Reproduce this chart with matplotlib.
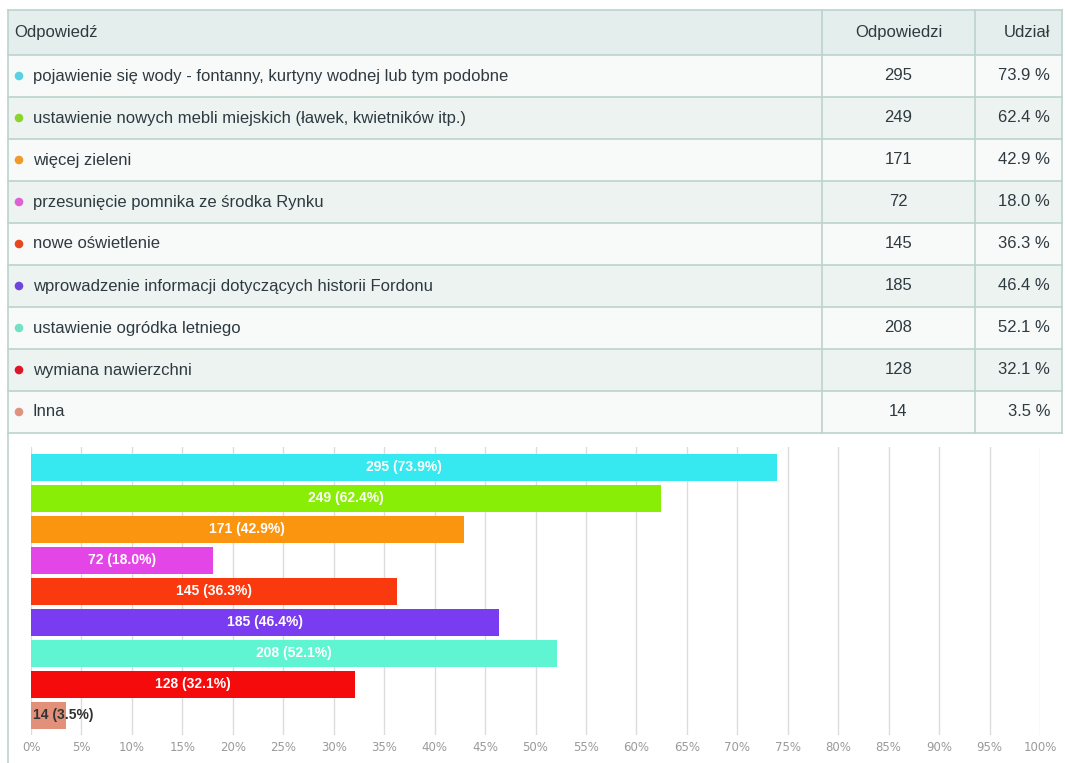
import matplotlib
matplotlib.use("Agg")
import matplotlib.pyplot as plt
from matplotlib.patches import Rectangle, Circle

answers = [
    "pojawienie się wody - fontanny, kurtyny wodnej lub tym podobne",
    "ustawienie nowych mebli miejskich (ławek, kwietników itp.)",
    "więcej zieleni",
    "przesunięcie pomnika ze środka Rynku",
    "nowe oświetlenie",
    "wprowadzenie informacji dotyczących historii Fordonu",
    "ustawienie ogródka letniego",
    "wymiana nawierzchni",
    "Inna",
]
counts = [295, 249, 171, 72, 145, 185, 208, 128, 14]
shares = [73.9, 62.4, 42.9, 18.0, 36.3, 46.4, 52.1, 32.1, 3.5]
bar_colors = ["#36e8f0", "#88ee06", "#fb9510", "#e445e6", "#fa3a0e",
              "#7a3cf0", "#60f5d2", "#f50b0b", "#e3907a"]
dot_colors = ["#55d3e3", "#8ad42c", "#f09a2a", "#de5fd6", "#e6471f",
              "#6f45dc", "#72e2c4", "#dd1527", "#df937f"]
header = ["Odpowiedź", "Odpowiedzi", "Udział"]
ticks = list(range(0, 101, 5))

plt.rcParams["font.family"] = ["Liberation Sans", "DejaVu Sans"]

W, H = 1065, 763
fig = plt.figure(figsize=(W / 100, H / 100), dpi=100)
fig.patch.set_facecolor("white")

# --- table drawn in pixel coordinates ---
tab = fig.add_axes([0, 0, 1, 1])
tab.set_xlim(0, W)
tab.set_ylim(H, 0)
tab.axis("off")

x0, x1, x2, x3 = 8, 822, 975, 1062
y_top, head_h, row_h = 10, 45, 42
line_c = "#bcd3ce"
text_c = "#2f3a40"

tab.add_patch(Rectangle((x0, y_top), x3 - x0, head_h, facecolor="#e4eeec",
                        edgecolor="none"))
for i in range(len(answers)):
    y = y_top + head_h + i * row_h
    fc = "#f7faf9" if i % 2 == 0 else "#edf3f1"
    tab.add_patch(Rectangle((x0, y), x3 - x0, row_h, facecolor=fc, edgecolor="none"))

n_lines = len(answers) + 2
for k in range(n_lines):
    y = y_top + (head_h + (k - 1) * row_h if k > 0 else 0)
    tab.plot([x0, x3], [y, y], color=line_c, lw=1.2)
y_end = y_top + head_h + len(answers) * row_h
for xv in (x1, x2, x3):
    tab.plot([xv, xv], [y_top, y_end], color=line_c, lw=1.2)
tab.plot([x0, x0], [y_top, H], color=line_c, lw=1.2)

fs = 12
ym = y_top + head_h / 2
tab.text(14, ym, header[0], va="center", ha="left", fontsize=fs, color=text_c)
tab.text((x1 + x2) / 2, ym, header[1], va="center", ha="center", fontsize=fs, color=text_c)
tab.text(1050, ym, header[2], va="center", ha="right", fontsize=fs, color=text_c)

for i, (a, c, s) in enumerate(zip(answers, counts, shares)):
    ym = y_top + head_h + i * row_h + row_h / 2
    tab.add_patch(Circle((19, ym), 4.3, facecolor=dot_colors[i], edgecolor="none"))
    tab.text(33, ym, a, va="center", ha="left", fontsize=fs, color=text_c)
    tab.text((x1 + x2) / 2, ym, f"{c}", va="center", ha="center", fontsize=fs, color=text_c)
    tab.text(1050, ym, f"{s:.1f} %", va="center", ha="right", fontsize=fs, color=text_c)

# --- horizontal bar chart ---
ax_l, ax_r, ax_t, ax_b = 31, 1040, 447, 735
ax = fig.add_axes([ax_l / W, 1 - ax_b / H, (ax_r - ax_l) / W, (ax_b - ax_t) / H])
ax.set_facecolor("none")
ypos = list(range(len(answers)))
ax.barh(ypos, shares, height=0.9, color=bar_colors, zorder=3)
ax.set_xlim(0, 100)
ax.set_ylim(8.63, -0.66)
ax.set_xticks(ticks)
ax.set_xticklabels([f"{t}%" for t in ticks], fontsize=8.5, color="#9a9a9a",
                   family="DejaVu Sans")
ax.set_yticks([])
ax.tick_params(axis="x", length=0, pad=4)
ax.grid(axis="x", color="#dcdcdc", lw=1, zorder=0)
for sp in ax.spines.values():
    sp.set_visible(False)

for i, (c, s) in enumerate(zip(counts, shares)):
    label = f"{c} ({s:.1f}%)"
    if s > 10:
        ax.text(s / 2, i, label, ha="center", va="center", color="white",
                fontsize=10, fontweight="bold", zorder=4)
    else:
        ax.text(0.2, i, label, ha="left", va="center", color="#333333",
                fontsize=10, fontweight="bold", zorder=4)

fig.savefig("out.png", dpi=100, facecolor="white")
